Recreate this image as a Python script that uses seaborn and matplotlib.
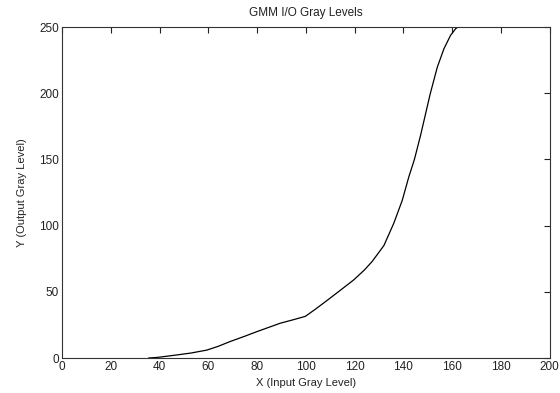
import matplotlib
matplotlib.use("Agg")
import matplotlib.pyplot as plt
import seaborn as sns
import pandas as pd

x_input = [35.5, 39.3, 47.0, 53.0, 59.4, 64.0, 69.0, 75.0, 80.0, 89.5, 95.0,
           99.8, 104.0, 109.4, 114.0, 119.6, 124.0, 127.2, 132.0, 136.0, 139.5,
           142.2, 144.5, 147.0, 151.0, 153.9, 156.6, 159.3, 161.4, 162.3]
y_output = [0.0, 0.5, 2.3, 3.8, 6.0, 8.8, 12.5, 16.5, 20.0, 26.3, 29.0,
            31.5, 37.0, 44.5, 51.0, 59.0, 66.5, 73.0, 85.0, 101.6, 119.0,
            136.8, 150.0, 168.0, 199.7, 219.8, 233.6, 243.7, 248.8, 250.0]
x_ticks = [0, 20, 40, 60, 80, 100, 120, 140, 160, 180, 200]
y_ticks = [0, 50, 100, 150, 200, 250]

sns.set_theme(style="white")
plt.rcParams['font.family'] = ['Liberation Sans', 'DejaVu Sans']

df = pd.DataFrame({"x": x_input, "y": y_output})

fig = plt.figure(figsize=(5.6, 3.93), dpi=100)
ax = fig.add_axes([0.1107, 0.089, 0.871, 0.842])
sns.lineplot(data=df, x="x", y="y", ax=ax, color="black", linewidth=0.9,
             sort=False, estimator=None)
ax.set_xlim(0, 200)
ax.set_ylim(0, 250)
ax.set_xticks(x_ticks)
ax.set_yticks(y_ticks)
ax.tick_params(direction="in", length=4, width=0.8, top=True, right=True,
               labelsize=8.5, colors="#222222", pad=2)
for s in ax.spines.values():
    s.set_color("#333333")
    s.set_linewidth(0.8)
    s.set_visible(True)
ax.set_title("GMM I/O Gray Levels", fontsize=8.5, pad=8, color="#222222")
ax.set_xlabel("X (Input Gray Level)", fontsize=8, labelpad=4, color="#222222")
ax.set_ylabel("Y (Output Gray Level)", fontsize=8, labelpad=9, color="#222222")
fig.savefig("out.png", dpi=100)
